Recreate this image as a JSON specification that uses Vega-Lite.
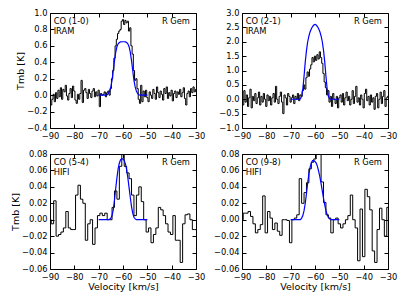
{
  "$schema": "https://vega.github.io/schema/vega-lite/v6.json",
  "padding": {"left": 10, "top": 7, "right": 5, "bottom": 5},
  "config": {
    "view": {"stroke": "black", "strokeWidth": 1},
    "axis": {"domain": false, "grid": false, "ticks": true, "tickSize": -4, "tickColor": "black", "tickWidth": 1,
      "labelFont": "DejaVu Sans", "labelFontSize": 8.3, "labelColor": "black", "labelPadding": 7, "labelFlush": false, "labelOverlap": false,
      "titleFont": "DejaVu Sans", "titleFontSize": 9.5, "titleFontWeight": "normal", "titleColor": "black", "titlePadding": 1},
    "text": {"font": "DejaVu Sans", "fontSize": 8.3, "color": "black"}
  },
  "datasets": {
    "co10": [
      {"v":-90.0,"t":0.02},{"v":-89.5,"t":-0.12},{"v":-89.0,"t":-0.05},{"v":-88.5,"t":0.01},{"v":-88.0,"t":-0.08},{"v":-87.5,"t":0.03},{"v":-87.0,"t":-0.04},{"v":-86.5,"t":0.06},{"v":-86.0,"t":-0.02},{"v":-85.5,"t":0.09},
      {"v":-85.0,"t":-0.05},{"v":-84.5,"t":0.07},{"v":-84.0,"t":0.04},{"v":-83.5,"t":0.12},{"v":-83.0,"t":-0.01},{"v":-82.5,"t":-0.06},{"v":-82.0,"t":0.02},{"v":-81.5,"t":0.08},{"v":-81.0,"t":-0.03},{"v":-80.5,"t":0.11},
      {"v":-80.0,"t":0.05},{"v":-79.5,"t":-0.06},{"v":-79.0,"t":-0.1},{"v":-78.5,"t":0.01},{"v":-78.0,"t":-0.05},{"v":-77.5,"t":0.02},{"v":-77.0,"t":0.18},{"v":-76.5,"t":-0.09},{"v":-76.0,"t":0.06},{"v":-75.5,"t":0.08},
      {"v":-75.0,"t":0.03},{"v":-74.5,"t":-0.04},{"v":-74.0,"t":0.07},{"v":-73.5,"t":0.02},{"v":-73.0,"t":-0.03},{"v":-72.5,"t":0.05},{"v":-72.0,"t":0.08},{"v":-71.5,"t":-0.02},{"v":-71.0,"t":0.04},{"v":-70.5,"t":-0.01},
      {"v":-70.0,"t":0.06},{"v":-69.5,"t":-0.14},{"v":-69.0,"t":0.02},{"v":-68.5,"t":0.0},{"v":-68.0,"t":0.01},{"v":-67.5,"t":0.04},{"v":-67.0,"t":-0.02},{"v":-66.5,"t":0.03},{"v":-66.0,"t":0.05},{"v":-65.5,"t":0.0},
      {"v":-65.0,"t":0.08},{"v":-64.5,"t":0.2},{"v":-64.0,"t":0.3},{"v":-63.5,"t":0.45},{"v":-63.0,"t":0.6},{"v":-62.5,"t":0.68},{"v":-62.0,"t":0.75},{"v":-61.5,"t":0.78},{"v":-61.0,"t":0.8},{"v":-60.5,"t":0.9},
      {"v":-60.0,"t":0.92},{"v":-59.5,"t":0.86},{"v":-59.0,"t":0.91},{"v":-58.5,"t":0.88},{"v":-58.0,"t":0.9},{"v":-57.5,"t":0.78},{"v":-57.0,"t":0.82},{"v":-56.5,"t":0.6},{"v":-56.0,"t":0.5},{"v":-55.5,"t":0.3},
      {"v":-55.0,"t":0.18},{"v":-54.5,"t":0.2},{"v":-54.0,"t":0.08},{"v":-53.5,"t":-0.05},{"v":-53.0,"t":-0.1},{"v":-52.5,"t":0.12},{"v":-52.0,"t":-0.08},{"v":-51.5,"t":0.05},{"v":-51.0,"t":-0.02},{"v":-50.5,"t":0.06},
      {"v":-50.0,"t":-0.03},{"v":-49.5,"t":-0.08},{"v":-49.0,"t":0.04},{"v":-48.5,"t":0.0},{"v":-48.0,"t":-0.04},{"v":-47.5,"t":0.07},{"v":-47.0,"t":0.02},{"v":-46.5,"t":-0.05},{"v":-46.0,"t":0.1},{"v":-45.5,"t":0.03},
      {"v":-45.0,"t":-0.03},{"v":-44.5,"t":0.05},{"v":-44.0,"t":0.01},{"v":-43.5,"t":-0.06},{"v":-43.0,"t":0.08},{"v":-42.5,"t":0.02},{"v":-42.0,"t":0.1},{"v":-41.5,"t":-0.04},{"v":-41.0,"t":0.03},{"v":-40.5,"t":-0.01},
      {"v":-40.0,"t":0.06},{"v":-39.5,"t":-0.07},{"v":-39.0,"t":0.02},{"v":-38.5,"t":0.05},{"v":-38.0,"t":-0.03},{"v":-37.5,"t":0.04},{"v":-37.0,"t":0.01},{"v":-36.5,"t":0.07},{"v":-36.0,"t":-0.02},{"v":-35.5,"t":0.03},
      {"v":-35.0,"t":0.09},{"v":-34.5,"t":-0.04},{"v":-34.0,"t":-0.12},{"v":-33.5,"t":0.02},{"v":-33.0,"t":0.05},{"v":-32.5,"t":-0.02},{"v":-32.0,"t":0.08},{"v":-31.5,"t":0.03},{"v":-31.0,"t":0.1},{"v":-30.5,"t":0.04},
      {"v":-30.0,"t":0.07}
    ],
    "co10m": [
      {"v":-70.0,"t":0},{"v":-69.0,"t":0},{"v":-68.0,"t":0},{"v":-67.0,"t":0},{"v":-66.5,"t":0.005},{"v":-66.0,"t":0.02},{"v":-65.5,"t":0.05},{"v":-65.0,"t":0.1},{"v":-64.5,"t":0.18},{"v":-64.0,"t":0.3},
      {"v":-63.5,"t":0.42},{"v":-63.0,"t":0.52},{"v":-62.5,"t":0.59},{"v":-62.0,"t":0.625},{"v":-61.5,"t":0.64},{"v":-61.0,"t":0.648},{"v":-60.5,"t":0.65},{"v":-60.0,"t":0.65},{"v":-59.5,"t":0.65},{"v":-59.0,"t":0.648},
      {"v":-58.5,"t":0.64},{"v":-58.0,"t":0.625},{"v":-57.5,"t":0.59},{"v":-57.0,"t":0.52},{"v":-56.5,"t":0.42},{"v":-56.0,"t":0.3},{"v":-55.5,"t":0.18},{"v":-55.0,"t":0.1},{"v":-54.5,"t":0.05},{"v":-54.0,"t":0.02},
      {"v":-53.5,"t":0.005},{"v":-53.0,"t":0},{"v":-52.0,"t":0},{"v":-51.0,"t":0},{"v":-50.0,"t":0}
    ],
    "co21": [
      {"v":-90.0,"t":0.1},{"v":-89.5,"t":-0.2},{"v":-89.0,"t":0.3},{"v":-88.5,"t":-0.1},{"v":-88.0,"t":0.15},{"v":-87.5,"t":-0.25},{"v":-87.0,"t":0.05},{"v":-86.5,"t":0.35},{"v":-86.0,"t":-0.3},{"v":-85.5,"t":0.1},
      {"v":-85.0,"t":-0.05},{"v":-84.5,"t":0.2},{"v":-84.0,"t":-0.15},{"v":-83.5,"t":0.05},{"v":-83.0,"t":0.25},{"v":-82.5,"t":-0.2},{"v":-82.0,"t":0.1},{"v":-81.5,"t":-0.1},{"v":-81.0,"t":0.2},{"v":-80.5,"t":0.0},
      {"v":-80.0,"t":-0.25},{"v":-79.5,"t":0.15},{"v":-79.0,"t":-0.05},{"v":-78.5,"t":0.1},{"v":-78.0,"t":-0.2},{"v":-77.5,"t":0.05},{"v":-77.0,"t":0.2},{"v":-76.5,"t":-0.1},{"v":-76.0,"t":0.45},{"v":-75.5,"t":0.0},
      {"v":-75.0,"t":-0.15},{"v":-74.5,"t":0.1},{"v":-74.0,"t":0.25},{"v":-73.5,"t":-0.1},{"v":-73.0,"t":-0.5},{"v":-72.5,"t":0.15},{"v":-72.0,"t":0.05},{"v":-71.5,"t":-0.2},{"v":-71.0,"t":0.2},{"v":-70.5,"t":0.1},
      {"v":-70.0,"t":-0.1},{"v":-69.5,"t":0.05},{"v":-69.0,"t":0.15},{"v":-68.5,"t":-0.15},{"v":-68.0,"t":0.1},{"v":-67.5,"t":0.0},{"v":-67.0,"t":0.2},{"v":-66.5,"t":-0.05},{"v":-66.0,"t":0.15},{"v":-65.5,"t":0.1},
      {"v":-65.0,"t":0.3},{"v":-64.5,"t":0.5},{"v":-64.0,"t":0.35},{"v":-63.5,"t":0.75},{"v":-63.0,"t":0.95},{"v":-62.5,"t":0.8},{"v":-62.0,"t":1.05},{"v":-61.5,"t":1.2},{"v":-61.0,"t":1.45},{"v":-60.5,"t":1.3},
      {"v":-60.0,"t":1.5},{"v":-59.5,"t":1.35},{"v":-59.0,"t":1.55},{"v":-58.5,"t":1.4},{"v":-58.0,"t":1.65},{"v":-57.5,"t":1.45},{"v":-57.0,"t":1.25},{"v":-56.5,"t":0.9},{"v":-56.0,"t":0.6},{"v":-55.5,"t":0.4},
      {"v":-55.0,"t":0.15},{"v":-54.5,"t":0.3},{"v":-54.0,"t":-0.1},{"v":-53.5,"t":0.1},{"v":-53.0,"t":-0.25},{"v":-52.5,"t":0.2},{"v":-52.0,"t":0.0},{"v":-51.5,"t":-0.15},{"v":-51.0,"t":0.1},{"v":-50.5,"t":-0.3},
      {"v":-50.0,"t":0.05},{"v":-49.5,"t":0.15},{"v":-49.0,"t":-0.1},{"v":-48.5,"t":0.2},{"v":-48.0,"t":-0.2},{"v":-47.5,"t":0.05},{"v":-47.0,"t":0.25},{"v":-46.5,"t":-0.05},{"v":-46.0,"t":0.1},{"v":-45.5,"t":-0.2},
      {"v":-45.0,"t":0.0},{"v":-44.5,"t":0.3},{"v":-44.0,"t":-0.15},{"v":-43.5,"t":0.1},{"v":-43.0,"t":0.45},{"v":-42.5,"t":-0.1},{"v":-42.0,"t":0.05},{"v":-41.5,"t":-0.2},{"v":-41.0,"t":0.15},{"v":-40.5,"t":0.0},
      {"v":-40.0,"t":-0.3},{"v":-39.5,"t":0.2},{"v":-39.0,"t":0.35},{"v":-38.5,"t":-0.05},{"v":-38.0,"t":0.1},{"v":-37.5,"t":-0.2},{"v":-37.0,"t":0.15},{"v":-36.5,"t":-0.1},{"v":-36.0,"t":0.05},{"v":-35.5,"t":-0.35},
      {"v":-35.0,"t":0.1},{"v":-34.5,"t":0.2},{"v":-34.0,"t":-0.3},{"v":-33.5,"t":0.0},{"v":-33.0,"t":0.25},{"v":-32.5,"t":-0.15},{"v":-32.0,"t":0.1},{"v":-31.5,"t":0.3},{"v":-31.0,"t":-0.25},{"v":-30.5,"t":0.05},
      {"v":-30.0,"t":0.1}
    ],
    "co21m": [
      {"v":-70.0,"t":0},{"v":-69.0,"t":0},{"v":-68.0,"t":0},{"v":-67.0,"t":0},{"v":-66.5,"t":0},{"v":-66.0,"t":0.02},{"v":-65.5,"t":0.1},{"v":-65.0,"t":0.35},{"v":-64.5,"t":0.8},{"v":-64.0,"t":1.3},
      {"v":-63.5,"t":1.7},{"v":-63.0,"t":2.0},{"v":-62.5,"t":2.2},{"v":-62.0,"t":2.35},{"v":-61.5,"t":2.45},{"v":-61.0,"t":2.53},{"v":-60.5,"t":2.58},{"v":-60.0,"t":2.6},{"v":-59.5,"t":2.58},{"v":-59.0,"t":2.53},
      {"v":-58.5,"t":2.45},{"v":-58.0,"t":2.35},{"v":-57.5,"t":2.2},{"v":-57.0,"t":2.0},{"v":-56.5,"t":1.7},{"v":-56.0,"t":1.3},{"v":-55.5,"t":0.8},{"v":-55.0,"t":0.35},{"v":-54.5,"t":0.1},{"v":-54.0,"t":0.02},
      {"v":-53.5,"t":0},{"v":-53.0,"t":0},{"v":-52.0,"t":0},{"v":-51.0,"t":0},{"v":-50.0,"t":0}
    ],
    "co54": [
      {"v":-90,"t":0.0},{"v":-89,"t":-0.005},{"v":-88,"t":0.023},{"v":-87,"t":-0.02},{"v":-86,"t":-0.018},{"v":-85,"t":-0.015},{"v":-84,"t":-0.01},{"v":-83,"t":0.01},{"v":-82,"t":-0.01},{"v":-81,"t":-0.012},
      {"v":-80,"t":-0.012},{"v":-79,"t":0.03},{"v":-78,"t":0.042},{"v":-77,"t":0.025},{"v":-76,"t":0.02},{"v":-75,"t":-0.025},{"v":-74,"t":-0.005},{"v":-73,"t":0.0},{"v":-72,"t":-0.03},{"v":-71,"t":-0.01},
      {"v":-70,"t":0.005},{"v":-69,"t":0.008},{"v":-68,"t":0.005},{"v":-67,"t":0.008},{"v":-66,"t":0.0},{"v":-65,"t":0.0},{"v":-64,"t":0.015},{"v":-63,"t":0.035},{"v":-62,"t":0.025},{"v":-61,"t":0.065},
      {"v":-60,"t":0.082},{"v":-59,"t":0.065},{"v":-58,"t":0.057},{"v":-57,"t":0.05},{"v":-56,"t":0.03},{"v":-55,"t":0.005},{"v":-54,"t":0.03},{"v":-53,"t":0.04},{"v":-52,"t":0.022},{"v":-51,"t":0.0},
      {"v":-50,"t":-0.015},{"v":-49,"t":-0.01},{"v":-48,"t":-0.028},{"v":-47,"t":-0.018},{"v":-46,"t":-0.01},{"v":-45,"t":0.015},{"v":-44,"t":0.012},{"v":-43,"t":0.005},{"v":-42,"t":-0.005},{"v":-41,"t":-0.015},
      {"v":-40,"t":-0.018},{"v":-39,"t":0.005},{"v":-38,"t":-0.025},{"v":-37,"t":-0.025},{"v":-36,"t":-0.052},{"v":-35,"t":-0.005},{"v":-34,"t":0.006},{"v":-33,"t":0.007},{"v":-32,"t":0.0},{"v":-31,"t":-0.012},
      {"v":-30,"t":-0.012}
    ],
    "co54m": [
      {"v":-70.0,"t":0},{"v":-68.0,"t":0},{"v":-66.0,"t":0},{"v":-65.5,"t":0.0005},{"v":-65.0,"t":0.002},{"v":-64.5,"t":0.005},{"v":-64.0,"t":0.012},{"v":-63.5,"t":0.024},{"v":-63.0,"t":0.038},{"v":-62.5,"t":0.051},
      {"v":-62.0,"t":0.062},{"v":-61.5,"t":0.069},{"v":-61.0,"t":0.073},{"v":-60.5,"t":0.074},{"v":-60.0,"t":0.074},{"v":-59.5,"t":0.072},{"v":-59.0,"t":0.068},{"v":-58.5,"t":0.061},{"v":-58.0,"t":0.051},{"v":-57.5,"t":0.039},
      {"v":-57.0,"t":0.027},{"v":-56.5,"t":0.016},{"v":-56.0,"t":0.008},{"v":-55.5,"t":0.003},{"v":-55.0,"t":0.001},{"v":-54.5,"t":0},{"v":-52.0,"t":0},{"v":-50.0,"t":0}
    ],
    "co98": [
      {"v":-90,"t":0.0},{"v":-89,"t":0.008},{"v":-88,"t":0.008},{"v":-87,"t":0.01},{"v":-86,"t":0.004},{"v":-85,"t":-0.005},{"v":-84,"t":-0.016},{"v":-83,"t":-0.012},{"v":-82,"t":-0.006},{"v":-81,"t":0.029},
      {"v":-80,"t":-0.016},{"v":-79,"t":0.01},{"v":-78,"t":0.002},{"v":-77,"t":-0.012},{"v":-76,"t":-0.004},{"v":-75,"t":-0.014},{"v":-74,"t":-0.019},{"v":-73,"t":0.0},{"v":-72,"t":0.0},{"v":-71,"t":-0.001},
      {"v":-70,"t":-0.028},{"v":-69,"t":0.0},{"v":-68,"t":0.002},{"v":-67,"t":0.006},{"v":-66,"t":0.05},{"v":-65,"t":0.02},{"v":-64,"t":0.033},{"v":-63,"t":0.045},{"v":-62,"t":0.062},{"v":-61,"t":0.07},
      {"v":-60,"t":0.074},{"v":-59,"t":0.085},{"v":-58,"t":0.085},{"v":-57,"t":0.046},{"v":-56,"t":0.021},{"v":-55,"t":0.006},{"v":-54,"t":0.002},{"v":-53,"t":-0.016},{"v":-52,"t":0.0},{"v":-51,"t":0.002},
      {"v":-50,"t":-0.005},{"v":-49,"t":-0.01},{"v":-48,"t":-0.005},{"v":-47,"t":0.0},{"v":-46,"t":0.005},{"v":-45,"t":0.03},{"v":-44,"t":0.0},{"v":-43,"t":-0.01},{"v":-42,"t":-0.05},{"v":-41,"t":0.013},
      {"v":-40,"t":-0.045},{"v":-39,"t":0.037},{"v":-38,"t":0.028},{"v":-37,"t":0.012},{"v":-36,"t":-0.038},{"v":-35,"t":-0.052},{"v":-34,"t":-0.012},{"v":-33,"t":0.014},{"v":-32,"t":0.0},{"v":-31,"t":-0.02},
      {"v":-30,"t":0.015}
    ],
    "co98m": [
      {"v":-70.0,"t":0},{"v":-68.0,"t":0},{"v":-66.0,"t":0},{"v":-65.5,"t":0.002},{"v":-65.0,"t":0.005},{"v":-64.5,"t":0.011},{"v":-64.0,"t":0.02},{"v":-63.5,"t":0.032},{"v":-63.0,"t":0.045},{"v":-62.5,"t":0.056},
      {"v":-62.0,"t":0.064},{"v":-61.5,"t":0.069},{"v":-61.0,"t":0.072},{"v":-60.5,"t":0.072},{"v":-60.0,"t":0.071},{"v":-59.5,"t":0.069},{"v":-59.0,"t":0.065},{"v":-58.5,"t":0.059},{"v":-58.0,"t":0.052},{"v":-57.5,"t":0.044},
      {"v":-57.0,"t":0.035},{"v":-56.5,"t":0.026},{"v":-56.0,"t":0.018},{"v":-55.5,"t":0.011},{"v":-55.0,"t":0.006},{"v":-54.5,"t":0.003},{"v":-54.0,"t":0.001},{"v":-53.5,"t":0},{"v":-52.0,"t":0},{"v":-50.0,"t":0}
    ]
  },
  "columns": 2,
  "spacing": {"row": 26, "column": 46},
  "bounds": "flush",
  "concat": [
    {
      "width": 146, "height": 115,
      "layer": [
        {"data": {"name": "co10"}, "mark": {"type": "line", "interpolate": "step", "color": "black", "strokeWidth": 1, "clip": true},
         "encoding": {
           "x": {"field": "v", "type": "quantitative", "scale": {"domain": [-90, -30], "nice": false, "zero": false}, "axis": {"orient": "bottom", "values": [-90,-80,-70,-60,-50,-40,-30], "format": "d", "title": null}},
           "y": {"field": "t", "type": "quantitative", "scale": {"domain": [-0.4, 1.0], "nice": false, "zero": false}, "axis": {"orient": "left", "values": [-0.4,-0.2,0,0.2,0.4,0.6,0.8,1.0], "format": ".1f", "title": "Tmb [K]"}}
         }},
        {"data": {"name": "co10m"}, "mark": {"type": "line", "color": "#0000ff", "strokeWidth": 1.2, "clip": true},
         "encoding": {
           "x": {"field": "v", "type": "quantitative", "scale": {"domain": [-90, -30], "nice": false, "zero": false}, "axis": {"orient": "top", "values": [-90,-80,-70,-60,-50,-40,-30], "labels": false, "title": null}},
           "y": {"field": "t", "type": "quantitative", "scale": {"domain": [-0.4, 1.0], "nice": false, "zero": false}, "axis": {"orient": "right", "values": [-0.4,-0.2,0,0.2,0.4,0.6,0.8,1.0], "labels": false, "title": null}}
         }},
        {"data": {"values": [{}]}, "mark": {"type": "text", "align": "left", "baseline": "top", "lineHeight": 9.5},
         "encoding": {"x": {"datum": -88.5, "type": "quantitative", "axis": null}, "y": {"datum": 0.95, "type": "quantitative", "axis": null}, "text": {"value": ["CO (1-0)", "IRAM"]}}},
        {"data": {"values": [{}]}, "mark": {"type": "text", "align": "right", "baseline": "top"},
         "encoding": {"x": {"datum": -32.5, "type": "quantitative", "axis": null}, "y": {"datum": 0.95, "type": "quantitative", "axis": null}, "text": {"value": "R Gem"}}}
      ],
      "resolve": {"axis": {"x": "independent", "y": "independent"}}
    },
    {
      "width": 146, "height": 115,
      "layer": [
        {"data": {"name": "co21"}, "mark": {"type": "line", "interpolate": "step", "color": "black", "strokeWidth": 1, "clip": true},
         "encoding": {
           "x": {"field": "v", "type": "quantitative", "scale": {"domain": [-90, -30], "nice": false, "zero": false}, "axis": {"orient": "bottom", "values": [-90,-80,-70,-60,-50,-40,-30], "format": "d", "title": null}},
           "y": {"field": "t", "type": "quantitative", "scale": {"domain": [-1.0, 3.0], "nice": false, "zero": false}, "axis": {"orient": "left", "values": [-1.0,-0.5,0,0.5,1.0,1.5,2.0,2.5,3.0], "format": ".1f", "title": null}}
         }},
        {"data": {"name": "co21m"}, "mark": {"type": "line", "color": "#0000ff", "strokeWidth": 1.2, "clip": true},
         "encoding": {
           "x": {"field": "v", "type": "quantitative", "scale": {"domain": [-90, -30], "nice": false, "zero": false}, "axis": {"orient": "top", "values": [-90,-80,-70,-60,-50,-40,-30], "labels": false, "title": null}},
           "y": {"field": "t", "type": "quantitative", "scale": {"domain": [-1.0, 3.0], "nice": false, "zero": false}, "axis": {"orient": "right", "values": [-1.0,-0.5,0,0.5,1.0,1.5,2.0,2.5,3.0], "labels": false, "title": null}}
         }},
        {"data": {"values": [{}]}, "mark": {"type": "text", "align": "left", "baseline": "top", "lineHeight": 9.5},
         "encoding": {"x": {"datum": -88.5, "type": "quantitative", "axis": null}, "y": {"datum": 2.86, "type": "quantitative", "axis": null}, "text": {"value": ["CO (2-1)", "IRAM"]}}},
        {"data": {"values": [{}]}, "mark": {"type": "text", "align": "right", "baseline": "top"},
         "encoding": {"x": {"datum": -32.5, "type": "quantitative", "axis": null}, "y": {"datum": 2.86, "type": "quantitative", "axis": null}, "text": {"value": "R Gem"}}}
      ],
      "resolve": {"axis": {"x": "independent", "y": "independent"}}
    },
    {
      "width": 146, "height": 115,
      "layer": [
        {"data": {"name": "co54"}, "mark": {"type": "line", "interpolate": "step", "color": "black", "strokeWidth": 1, "clip": true},
         "encoding": {
           "x": {"field": "v", "type": "quantitative", "scale": {"domain": [-90, -30], "nice": false, "zero": false}, "axis": {"orient": "bottom", "values": [-90,-80,-70,-60,-50,-40,-30], "format": "d", "title": "Velocity [km/s]"}},
           "y": {"field": "t", "type": "quantitative", "scale": {"domain": [-0.06, 0.08], "nice": false, "zero": false}, "axis": {"orient": "left", "values": [-0.06,-0.04,-0.02,0,0.02,0.04,0.06,0.08], "format": ".2f", "title": "Tmb [K]"}}
         }},
        {"data": {"name": "co54m"}, "mark": {"type": "line", "color": "#0000ff", "strokeWidth": 1.2, "clip": true},
         "encoding": {
           "x": {"field": "v", "type": "quantitative", "scale": {"domain": [-90, -30], "nice": false, "zero": false}, "axis": {"orient": "top", "values": [-90,-80,-70,-60,-50,-40,-30], "labels": false, "title": null}},
           "y": {"field": "t", "type": "quantitative", "scale": {"domain": [-0.06, 0.08], "nice": false, "zero": false}, "axis": {"orient": "right", "values": [-0.06,-0.04,-0.02,0,0.02,0.04,0.06,0.08], "labels": false, "title": null}}
         }},
        {"data": {"values": [{}]}, "mark": {"type": "text", "align": "left", "baseline": "top", "lineHeight": 9.5},
         "encoding": {"x": {"datum": -88.5, "type": "quantitative", "axis": null}, "y": {"datum": 0.075, "type": "quantitative", "axis": null}, "text": {"value": ["CO (5-4)", "HIFI"]}}},
        {"data": {"values": [{}]}, "mark": {"type": "text", "align": "right", "baseline": "top"},
         "encoding": {"x": {"datum": -32.5, "type": "quantitative", "axis": null}, "y": {"datum": 0.075, "type": "quantitative", "axis": null}, "text": {"value": "R Gem"}}}
      ],
      "resolve": {"axis": {"x": "independent", "y": "independent"}}
    },
    {
      "width": 146, "height": 115,
      "layer": [
        {"data": {"name": "co98"}, "mark": {"type": "line", "interpolate": "step", "color": "black", "strokeWidth": 1, "clip": true},
         "encoding": {
           "x": {"field": "v", "type": "quantitative", "scale": {"domain": [-90, -30], "nice": false, "zero": false}, "axis": {"orient": "bottom", "values": [-90,-80,-70,-60,-50,-40,-30], "format": "d", "title": "Velocity [km/s]"}},
           "y": {"field": "t", "type": "quantitative", "scale": {"domain": [-0.06, 0.08], "nice": false, "zero": false}, "axis": {"orient": "left", "values": [-0.06,-0.04,-0.02,0,0.02,0.04,0.06,0.08], "format": ".2f", "title": null}}
         }},
        {"data": {"name": "co98m"}, "mark": {"type": "line", "color": "#0000ff", "strokeWidth": 1.2, "clip": true},
         "encoding": {
           "x": {"field": "v", "type": "quantitative", "scale": {"domain": [-90, -30], "nice": false, "zero": false}, "axis": {"orient": "top", "values": [-90,-80,-70,-60,-50,-40,-30], "labels": false, "title": null}},
           "y": {"field": "t", "type": "quantitative", "scale": {"domain": [-0.06, 0.08], "nice": false, "zero": false}, "axis": {"orient": "right", "values": [-0.06,-0.04,-0.02,0,0.02,0.04,0.06,0.08], "labels": false, "title": null}}
         }},
        {"data": {"values": [{}]}, "mark": {"type": "text", "align": "left", "baseline": "top", "lineHeight": 9.5},
         "encoding": {"x": {"datum": -88.5, "type": "quantitative", "axis": null}, "y": {"datum": 0.075, "type": "quantitative", "axis": null}, "text": {"value": ["CO (9-8)", "HIFI"]}}},
        {"data": {"values": [{}]}, "mark": {"type": "text", "align": "right", "baseline": "top"},
         "encoding": {"x": {"datum": -32.5, "type": "quantitative", "axis": null}, "y": {"datum": 0.075, "type": "quantitative", "axis": null}, "text": {"value": "R Gem"}}}
      ],
      "resolve": {"axis": {"x": "independent", "y": "independent"}}
    }
  ]
}
